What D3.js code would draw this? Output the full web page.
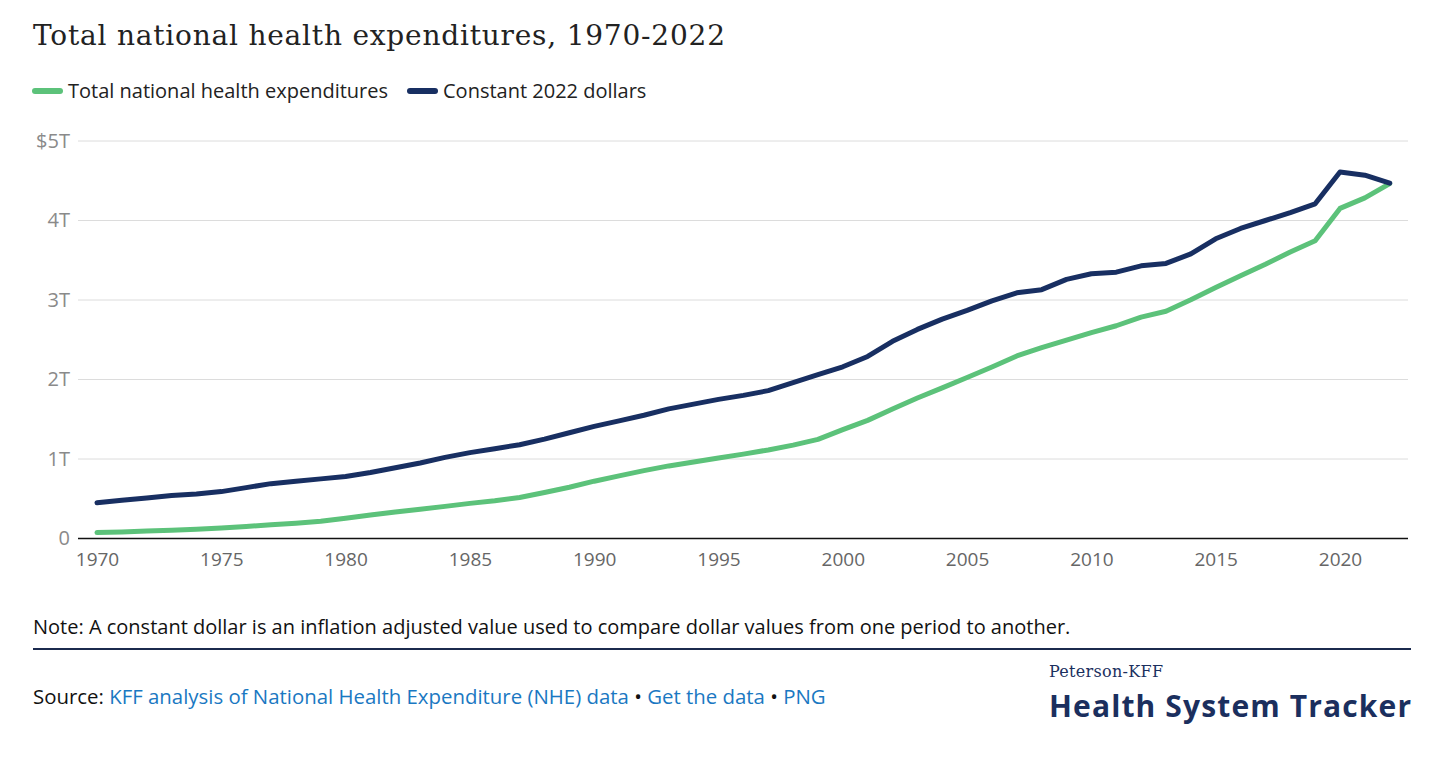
<!DOCTYPE html>
<html>
<head>
<meta charset="utf-8">
<script src="https://cdn.jsdelivr.net/npm/d3@7"></script>
<style>
  body { margin: 0; background: #fff; }
  svg { display: block; }
</style>
</head>
<body>
<div id="chart"></div>
<script>
// Data (trillions of dollars)
const years = d3.range(1970, 2023);
const totalNHE = [
  0.074, 0.083, 0.093, 0.103, 0.116, 0.133, 0.152, 0.172, 0.193, 0.218,
  0.255, 0.296, 0.334, 0.367, 0.404, 0.442, 0.474, 0.516, 0.579, 0.644,
  0.721, 0.788, 0.854, 0.913, 0.962, 1.012, 1.061, 1.114, 1.175, 1.247,
  1.369, 1.486, 1.628, 1.767, 1.895, 2.025, 2.157, 2.296, 2.400, 2.496,
  2.590, 2.676, 2.785, 2.858, 3.003, 3.157, 3.304, 3.449, 3.604, 3.745,
  4.152, 4.285, 4.464
];
const constant2022 = [
  0.45, 0.48, 0.51, 0.54, 0.56, 0.59, 0.64, 0.69, 0.72, 0.75,
  0.78, 0.83, 0.89, 0.95, 1.02, 1.08, 1.13, 1.18, 1.25, 1.33,
  1.41, 1.48, 1.55, 1.63, 1.69, 1.75, 1.80, 1.86, 1.96, 2.06,
  2.16, 2.29, 2.48, 2.63, 2.76, 2.87, 2.99, 3.09, 3.13, 3.26,
  3.33, 3.35, 3.43, 3.46, 3.58, 3.77, 3.90, 4.00, 4.10, 4.21,
  4.61, 4.57, 4.47
];
const yTicks = [0, 1, 2, 3, 4, 5];
const xTicks = d3.range(1970, 2021, 5);

const seriesNames = ["Total national health expenditures", "Constant 2022 dollars"];
const seriesColors = ["#5cc27a", "#182f62"];

const width = 1456, height = 759;
const margin = { top: 141, right: 48, bottom: 220, left: 78 };
const sans = "'Open Sans', sans-serif";

const svg = d3.select("#chart")
  .append("svg")
  .attr("width", width)
  .attr("height", height);

// Title
svg.append("text")
  .attr("x", 33)
  .attr("y", 45)
  .attr("font-family", "'DejaVu Serif', serif")
  .attr("font-size", 28)
  .attr("fill", "#222")
  .attr("textLength", 692)
  .text("Total national health expenditures, 1970-2022");

// Legend
const legend = svg.append("g").attr("transform", "translate(33,91)");
const legendX = [0, 375];
seriesNames.forEach((name, i) => {
  const g = legend.append("g").attr("transform", "translate(" + legendX[i] + ",0)");
  g.append("line")
    .attr("x1", 2).attr("x2", 27)
    .attr("y1", 0).attr("y2", 0)
    .attr("stroke", seriesColors[i])
    .attr("stroke-width", 6)
    .attr("stroke-linecap", "round");
  g.append("text")
    .attr("x", 35)
    .attr("y", 7)
    .attr("font-family", sans)
    .attr("font-size", 20)
    .attr("fill", "#222")
    .text(name);
});

// Scales
const x = d3.scaleLinear()
  .domain([1970, 2022])
  .range([97, 97 + 52 * 24.86]);

const y = d3.scaleLinear()
  .domain([0, 5])
  .range([538.5, 141]);

// Gridlines
svg.append("g")
  .selectAll("line")
  .data(yTicks.filter(d => d > 0))
  .enter().append("line")
  .attr("x1", margin.left)
  .attr("x2", 1408)
  .attr("y1", d => y(d))
  .attr("y2", d => y(d))
  .attr("stroke", "#dcdcdc")
  .attr("stroke-width", 1);

// Y axis labels
const yAxis = svg.append("g")
  .attr("transform", "translate(70,0)")
  .call(d3.axisLeft(y).tickValues(yTicks).tickSize(0).tickPadding(0)
    .tickFormat(d => d === 0 ? "0" : (d === 5 ? "$" + d + "T" : d + "T")));
yAxis.select(".domain").remove();
yAxis.selectAll("text")
  .attr("font-family", sans)
  .attr("font-size", 20)
  .attr("fill", "#8a8a8a");

// X axis
const xAxis = svg.append("g")
  .attr("transform", "translate(0," + y(0) + ")")
  .call(d3.axisBottom(x).tickValues(xTicks).tickSize(0).tickPadding(14)
    .tickFormat(d3.format("d")));
xAxis.select(".domain").remove();
xAxis.selectAll("text")
  .attr("font-family", sans)
  .attr("font-size", 19)
  .attr("fill", "#666");
svg.append("line")
  .attr("x1", margin.left)
  .attr("x2", 1408)
  .attr("y1", y(0))
  .attr("y2", y(0))
  .attr("stroke", "#111")
  .attr("stroke-width", 1.5);

// Lines
const line = d3.line()
  .x((d, i) => x(years[i]))
  .y(d => y(d));

[totalNHE, constant2022].forEach((values, i) => {
  svg.append("path")
    .datum(values)
    .attr("fill", "none")
    .attr("stroke", seriesColors[i])
    .attr("stroke-width", 5)
    .attr("stroke-linejoin", "round")
    .attr("stroke-linecap", "round")
    .attr("d", line);
});

// Note
svg.append("text")
  .attr("x", 33)
  .attr("y", 634)
  .attr("font-family", sans)
  .attr("font-size", 20)
  .attr("fill", "#111")
  .text("Note: A constant dollar is an inflation adjusted value used to compare dollar values from one period to another.");

svg.append("line")
  .attr("x1", 33).attr("x2", 1411)
  .attr("y1", 649).attr("y2", 649)
  .attr("stroke", "#1b2a4e")
  .attr("stroke-width", 2);

// Source
const source = svg.append("text")
  .attr("x", 33)
  .attr("y", 704)
  .attr("font-family", sans)
  .attr("font-size", 20.4)
  .attr("fill", "#111");
source.append("tspan").text("Source: ");
source.append("tspan").attr("fill", "#1a78c2").text("KFF analysis of National Health Expenditure (NHE) data");
source.append("tspan").text(" \u2022 ");
source.append("tspan").attr("fill", "#1a78c2").text("Get the data");
source.append("tspan").text(" \u2022 ");
source.append("tspan").attr("fill", "#1a78c2").text("PNG");

// Logo
svg.append("text")
  .attr("x", 1049)
  .attr("y", 677)
  .attr("font-family", "'DejaVu Serif', serif")
  .attr("font-size", 16)
  .attr("fill", "#1b2f5e")
  .attr("textLength", 114)
  .text("Peterson-KFF");
svg.append("text")
  .attr("x", 1049)
  .attr("y", 717)
  .attr("font-family", sans)
  .attr("font-weight", 700)
  .attr("font-size", 30)
  .attr("fill", "#1b2f5e")
  .attr("textLength", 362)
  .text("Health System Tracker");
</script>
</body>
</html>
